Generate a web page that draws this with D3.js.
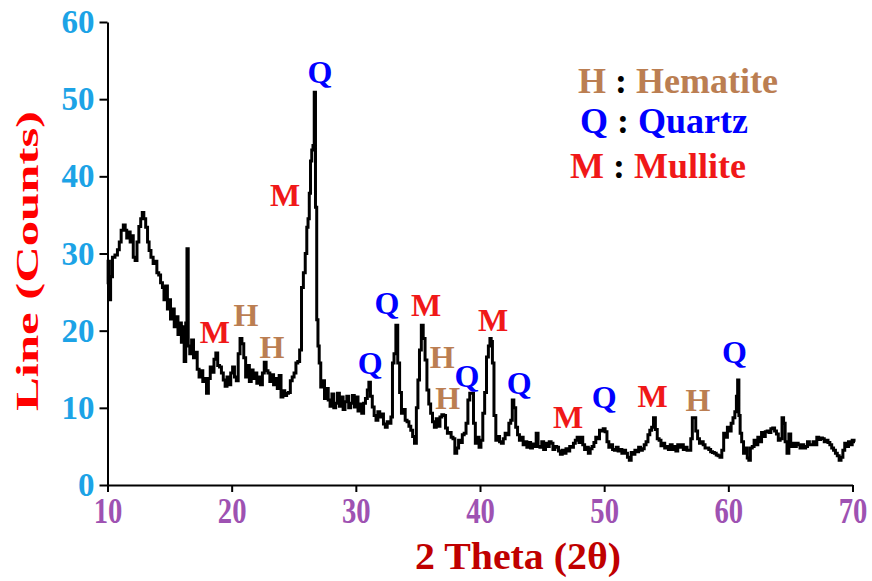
<!DOCTYPE html>
<html>
<head>
<meta charset="utf-8">
<script src="https://cdn.jsdelivr.net/npm/d3@7"></script>
<style>
  html, body { margin: 0; padding: 0; background: #fff; }
  svg { display: block; }
  text { font-family: "Liberation Serif", "Times New Roman", serif; font-weight: bold; }
</style>
</head>
<body>
<svg id="chart" width="872" height="581"></svg>
<script>
// XRD pattern: diffraction angle (2θ, degrees) and intensity (counts)
const twoTheta = [
  10.0,10.1,10.2,10.3,10.5,10.7,10.9,11.0,11.2,11.35,11.5,11.6,11.75,11.9,12.0,12.15,12.3,12.45,12.6,12.75,12.85,13.0,13.15,13.3,13.4,13.6,13.75,13.9,14.05,14.2,14.35,14.5,14.6,14.75,14.9,15.0,15.15,15.3,15.45,15.6,15.75,15.9,16.0,16.1,16.25,16.35,16.45,16.55,16.7,16.85,17.0,17.15,17.3,17.45,17.6,17.75,17.9,18.05,18.2,18.35,18.5,18.65,18.8,18.95,19.1,19.25,19.4,19.55,19.7,19.85,
  20.0,20.15,20.3,20.45,20.6,20.75,20.9,21.05,21.2,21.35,21.5,21.65,21.8,21.95,22.1,22.25,22.4,22.55,22.7,22.85,23.0,23.15,23.3,23.45,23.6,23.75,23.9,24.05,24.2,24.35,24.5,24.65,24.8,24.95,25.1,25.25,25.4,25.55,25.7,25.85,26.0,26.1,26.2,26.3,26.4,26.5,26.6,26.7,26.8,26.9,27.0,27.1,27.25,27.4,27.55,27.7,27.85,28.0,28.15,28.3,28.45,28.6,28.75,28.9,29.05,29.2,29.35,29.5,29.65,29.8,29.95,
  30.1,30.25,30.4,30.55,30.7,30.85,31.0,31.1,31.25,31.4,31.55,31.7,31.85,32.0,32.15,32.3,32.45,32.6,32.75,32.9,33.0,33.15,33.3,33.45,33.6,33.75,33.9,34.05,34.2,34.35,34.5,34.65,34.8,34.95,35.05,35.2,35.35,35.5,35.65,35.8,35.95,36.1,36.25,36.4,36.55,36.7,36.85,37.0,37.15,37.3,37.45,37.6,37.75,37.9,38.05,38.2,38.35,38.5,38.65,38.8,38.95,39.1,39.25,39.4,39.55,39.7,39.85,
  40.0,40.15,40.3,40.45,40.6,40.75,40.85,40.95,41.05,41.2,41.35,41.5,41.65,41.8,41.95,42.1,42.25,42.4,42.55,42.65,42.8,42.95,43.1,43.25,43.4,43.55,43.7,43.85,44.0,44.15,44.3,44.45,44.6,44.75,44.9,45.05,45.2,45.35,45.5,45.65,45.8,45.95,46.1,46.25,46.4,46.55,46.7,46.85,47.0,47.15,47.3,47.45,47.6,47.75,47.9,48.05,48.2,48.35,48.5,48.65,48.8,48.95,49.1,49.25,49.4,49.55,49.7,49.85,
  50.0,50.15,50.3,50.45,50.6,50.75,50.9,51.05,51.2,51.35,51.5,51.65,51.8,51.95,52.1,52.25,52.4,52.55,52.7,52.85,53.0,53.15,53.3,53.45,53.6,53.75,53.9,54.05,54.2,54.35,54.5,54.65,54.8,54.95,55.1,55.25,55.4,55.55,55.7,55.85,56.0,56.15,56.3,56.45,56.6,56.75,56.9,57.05,57.15,57.3,57.45,57.6,57.75,57.9,58.05,58.2,58.35,58.5,58.65,58.8,58.95,59.1,59.25,59.4,59.55,59.7,59.85,
  60.0,60.15,60.3,60.45,60.6,60.7,60.8,60.9,61.0,61.15,61.3,61.45,61.6,61.7,61.85,62.0,62.15,62.3,62.45,62.6,62.75,62.9,63.05,63.2,63.35,63.5,63.65,63.8,63.95,64.1,64.25,64.4,64.5,64.65,64.8,64.95,65.1,65.25,65.4,65.55,65.7,65.85,66.0,66.15,66.3,66.45,66.6,66.75,66.9,67.05,67.2,67.35,67.5,67.65,67.8,67.95,68.1,68.25,68.4,68.55,68.7,68.85,69.0,69.15,69.3,69.45,69.6,69.75,69.9,70.05,70.2
];
const counts = [
  26,29,24,27,29.5,29.8,30.5,31.5,33.0,33.7,33.0,32.0,32.8,31.5,32.3,29.5,29.1,31.5,33.5,34.5,35.3,34.5,33.4,31.5,30.4,29.5,28.7,29.0,27.5,27.2,26.2,25.6,24.0,25.8,22.8,24.0,21.5,22.8,20.5,21.8,19.5,21.0,18.5,20.5,16.0,21.0,30.6,18.0,17.0,18.8,16.5,17.2,15.0,14.0,14.8,13.4,13.8,11.9,13.8,15.3,14.6,16.3,17.1,15.5,15.3,14.5,13.6,12.8,14.0,13.0,
  14.5,15.3,14.0,13.5,17.0,19.0,18.3,16.5,14.0,15.5,13.4,14.9,13.8,14.5,13.2,14.0,13.0,14.5,15.9,14.8,14.5,13.4,14.3,13.0,13.8,12.5,14.2,11.4,12.2,11.6,11.9,12.0,13.5,14.0,14.5,15.8,16.0,17.5,25.6,27.5,30.0,33.4,34.5,37.8,42.0,43.4,44.0,50.9,36.0,21.4,18.0,15.8,12.7,13.5,11.2,12.5,11.0,10.2,11.8,10.0,10.6,11.9,10.2,11.4,9.8,10.8,11.5,10.0,10.6,11.6,10.1,
  11.4,9.6,10.5,9.3,10.6,11.2,12.3,13.3,11.5,10.1,9.0,8.4,9.5,8.8,9.2,7.9,7.5,8.2,8.0,8.8,15.8,17.0,20.7,15.8,12.0,9.3,9.8,8.4,8.2,7.6,7.1,6.3,5.4,10.0,13.6,17.5,20.7,19.0,16.2,12.3,10.5,9.3,8.2,7.5,8.6,7.6,8.8,9.1,9.0,7.4,6.7,6.8,6.2,6.0,4.1,4.8,5.8,5.5,6.5,6.7,8.0,11.0,11.9,11.9,8.0,5.4,6.2,
  4.9,5.8,9.3,12.0,16.6,18.0,19.0,18.6,15.8,9.0,5.8,6.3,5.6,5.4,6.0,6.7,6.5,8.0,8.4,11.0,10.0,7.5,6.5,5.8,6.2,5.2,5.6,4.9,5.5,4.8,5.3,5.0,6.7,5.0,4.9,5.6,4.6,5.4,5.0,5.6,5.4,4.6,5.0,4.9,4.4,4.0,4.5,4.1,4.7,4.4,5.0,4.9,5.4,5.8,6.2,5.5,6.2,5.2,4.6,4.9,4.1,4.7,5.0,5.5,6.2,6.0,7.1,7.0,
  7.3,6.9,5.6,4.9,5.2,4.6,4.5,4.9,4.4,4.6,4.1,4.5,4.1,3.6,3.2,4.2,4.0,4.5,4.3,4.9,4.5,4.7,5.2,5.6,6.5,7.1,7.5,8.7,7.2,6.0,5.8,5.1,5.4,4.8,5.0,4.6,5.2,4.6,5.0,4.4,5.2,4.9,5.2,4.6,4.9,4.5,4.5,6.0,8.7,8.7,7.0,6.0,5.4,5.6,5.2,4.8,4.8,4.6,4.3,4.2,4.1,3.9,3.8,3.6,4.5,6.7,6.2,
  7.5,7.0,8.0,8.7,9.5,11.5,13.6,9.0,6.7,5.6,4.1,4.8,3.5,3.2,4.8,5.0,5.8,5.2,6.2,5.6,6.8,6.3,6.9,7.0,6.8,7.3,7.4,7.0,6.6,5.8,6.0,8.7,8.0,5.6,4.1,6.6,5.0,5.4,5.0,5.4,5.2,4.8,5.2,4.8,5.0,5.6,5.2,5.2,5.6,5.2,6.2,5.9,6.1,6.0,5.6,5.8,5.5,5.2,4.8,4.5,4.1,3.8,3.2,3.6,4.5,5.4,5.0,5.6,5.2,5.8,5.6
];

// Phase labels placed over the peaks: letter, 2θ position, counts position
const peakPhase = ["Q","M","M","H","H","Q","Q","M","H","H","Q","M","Q","M","Q","M","H","Q"];
const peakX     = [27.1,24.3,18.65,21.15,23.25,31.15,32.5,35.65,36.95,37.4,38.95,41.05,43.15,47.1,50.0,53.9,57.55,60.5];
const peakY     = [53.5,37.6,19.8,22.0,17.9,15.8,23.6,23.3,16.6,11.3,14.2,21.4,13.3,8.8,11.4,11.5,11.0,17.2];

// Legend entries
const legendCodes = ["H","Q","M"];
const legendNames = ["Hematite","Quartz","Mullite"];

const xTicks = [10,20,30,40,50,60,70];
const yTicks = [0,10,20,30,40,50,60];

const phaseColor = { H: "#BB7E52", Q: "#0000FF", M: "#F01818" };

const svg = d3.select("#chart");
const plotLeft = 107.5, plotRight = 852.5, plotTop = 22, plotBottom = 485;

const x = d3.scaleLinear().domain([10, 70]).range([plotLeft, plotRight]);
const y = d3.scaleLinear().domain([0, 60]).range([plotBottom, plotTop]);

// Trace
const pts = twoTheta.map((t, i) => [t, counts[i]]);
svg.append("path")
  .datum(pts)
  .attr("fill", "none")
  .attr("stroke", "#000")
  .attr("stroke-width", 3)
  .attr("stroke-linejoin", "miter")
  .attr("d", d3.line().x(d => x(d[0])).y(d => y(d[1])).curve(d3.curveStep));

// Y axis
const yAxis = svg.append("g")
  .attr("transform", `translate(${plotLeft},0)`)
  .call(d3.axisLeft(y).tickValues(yTicks).tickSize(8).tickPadding(5).tickSizeOuter(0));
yAxis.select(".domain").attr("stroke", "#000").attr("stroke-width", 2);
yAxis.selectAll(".tick line").attr("stroke", "#000").attr("stroke-width", 2);
yAxis.selectAll(".tick text")
  .attr("fill", "#1CA3E6")
  .style("font-size", "33px")
  .style("font-family", "'Liberation Serif', serif")
  .style("font-weight", "bold");

// X axis
const xAxis = svg.append("g")
  .attr("transform", `translate(0,${plotBottom})`)
  .call(d3.axisBottom(x).tickValues(xTicks).tickSize(7).tickPadding(6).tickSizeOuter(0));
xAxis.select(".domain").attr("stroke", "#000").attr("stroke-width", 2);
xAxis.selectAll(".tick line").attr("stroke", "#000").attr("stroke-width", 2);
xAxis.selectAll(".tick text")
  .attr("fill", "#9E52B2")
  .attr("transform", "scale(0.82,1)")
  .style("font-size", "35px")
  .style("font-family", "'Liberation Serif', serif")
  .style("font-weight", "bold");

// Axis titles
svg.append("text")
  .attr("transform", "translate(38,261) rotate(-90)")
  .attr("text-anchor", "middle")
  .attr("fill", "#FF0000")
  .attr("textLength", 300)
  .attr("lengthAdjust", "spacingAndGlyphs")
  .style("font-size", "32px")
  .text("Line (Counts)");

svg.append("text")
  .attr("x", 518)
  .attr("y", 569)
  .attr("text-anchor", "middle")
  .attr("fill", "#C00000")
  .attr("textLength", 206)
  .attr("lengthAdjust", "spacingAndGlyphs")
  .style("font-size", "38px")
  .text("2 Theta (2θ)");

// Peak labels
svg.append("g").selectAll("text")
  .data(peakPhase.map((p, i) => ({ p, tx: peakX[i], cy: peakY[i] })))
  .join("text")
  .attr("x", d => x(d.tx))
  .attr("y", d => y(d.cy))
  .attr("dy", "0.35em")
  .attr("text-anchor", "middle")
  .attr("fill", d => phaseColor[d.p])
  .style("font-size", "32px")
  .text(d => d.p);

// Legend
const legendX = [578, 580, 570];
const legendY = [93, 133, 178];
const lg = svg.append("g");
legendCodes.forEach((c, i) => {
  const t = lg.append("text")
    .attr("x", legendX[i])
    .attr("y", legendY[i])
    .style("font-size", "36px");
  t.append("tspan").attr("fill", phaseColor[c]).text(c + " ");
  t.append("tspan").attr("fill", "#000").text(":");
  t.append("tspan").attr("fill", phaseColor[c]).text(" " + legendNames[i]);
});
</script>
</body>
</html>
